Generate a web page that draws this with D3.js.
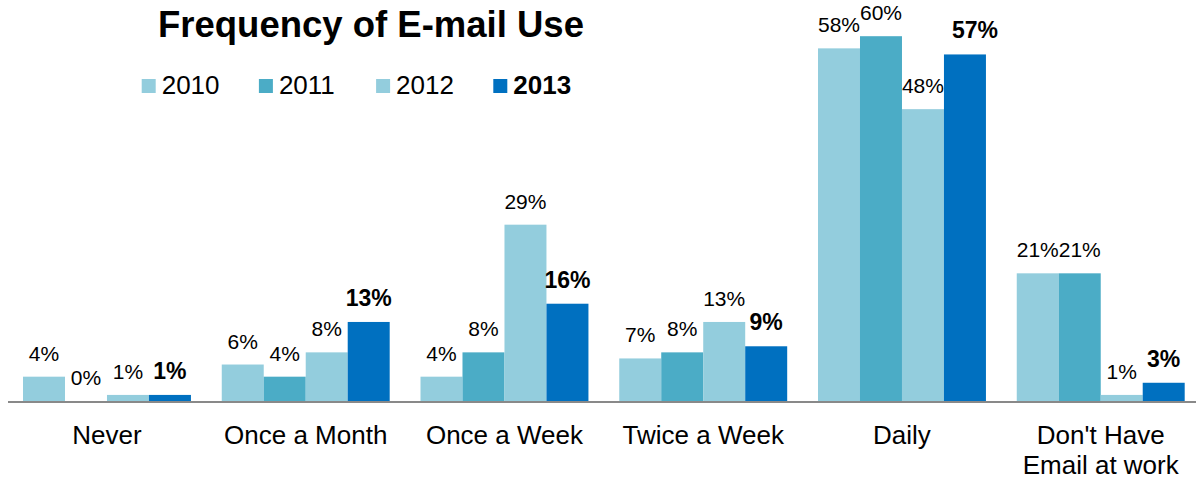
<!DOCTYPE html>
<html>
<head>
<meta charset="utf-8">
<script src="https://cdn.jsdelivr.net/npm/d3@7/dist/d3.min.js"></script>
<style>
  html, body { margin: 0; padding: 0; background: #fff; }
  svg { display: block; font-family: "Liberation Sans", Arial, Helvetica, sans-serif; }
</style>
</head>
<body>
<svg id="chart" width="1196" height="481"></svg>
<script>
// Frequency of e-mail use at work, by survey year (percent of respondents)
const categories = [["Never"], ["Once a Month"], ["Once a Week"], ["Twice a Week"], ["Daily"], ["Don't Have", "Email at work"]];
const years = ["2010", "2011", "2012", "2013"];
const values2010 = [4, 6, 4, 7, 58, 21];
const values2011 = [0, 4, 8, 8, 60, 21];
const values2012 = [1, 8, 29, 13, 48, 1];
const values2013 = [1, 13, 16, 9, 57, 3];
const seriesValues = [values2010, values2011, values2012, values2013];
const colors = ["#93cddd", "#4bacc6", "#93cddd", "#0070c0"];

const svg = d3.select("#chart");
const W = 1196, baseY = 401;

const catKeys = categories.map(c => c.join(" "));
const x0 = d3.scaleBand().domain(catKeys).range([7.6, 1200.1])
  .paddingInner(0.155).paddingOuter(0.0775);
const x1 = d3.scaleBand().domain(years).range([0, x0.bandwidth()]);
const y = d3.scaleLinear().domain([0, 60]).range([baseY, baseY - 60 * 6.08]);

// Title
svg.append("text")
  .attr("x", 158).attr("y", 37)
  .attr("font-size", 36.5).attr("font-weight", "bold").attr("fill", "#000")
  .text("Frequency of E-mail Use");

// Legend
const legend = svg.append("g");
years.forEach((yr, i) => {
  const lx = 141.7 + i * 117.2;
  legend.append("rect").attr("x", lx).attr("y", 79).attr("width", 14).attr("height", 14).attr("fill", colors[i]);
  legend.append("text").attr("x", lx + 20).attr("y", 94)
    .attr("font-size", 26).attr("fill", "#000")
    .attr("font-weight", i === 3 ? "bold" : "normal")
    .text(yr);
});

// Bars and value labels
const groups = svg.append("g").selectAll("g")
  .data(catKeys)
  .join("g")
  .attr("transform", d => `translate(${x0(d)},0)`);

groups.each(function (cat, ci) {
  const g = d3.select(this);
  years.forEach((yr, si) => {
    const v = seriesValues[si][ci];
    g.append("rect")
      .attr("x", x1(yr)).attr("width", x1.bandwidth())
      .attr("y", y(v)).attr("height", baseY - y(v))
      .attr("fill", colors[si]);
    const bold = si === 3;
    // the Daily 2013 label sits slightly right of its bar
    const nudge = (bold && cat === "Daily") ? 10 : 0;
    g.append("text")
      .attr("x", x1(yr) + x1.bandwidth() / 2 + nudge)
      .attr("y", y(v) - 16)
      .attr("text-anchor", "middle")
      .attr("font-size", bold ? 23 : 21)
      .attr("font-weight", bold ? "bold" : "normal")
      .attr("fill", "#000")
      .text(v + "%");
  });
});

// Category axis
svg.append("line")
  .attr("x1", 8).attr("x2", W).attr("y1", 402).attr("y2", 402)
  .attr("stroke", "#898989").attr("stroke-width", 2);

categories.forEach((lines, i) => {
  const t = svg.append("text")
    .attr("x", x0(catKeys[i]) + x0.bandwidth() / 2)
    .attr("y", 444)
    .attr("text-anchor", "middle")
    .attr("font-size", 26).attr("fill", "#000");
  lines.forEach((ln, li) => {
    t.append("tspan").attr("x", x0(catKeys[i]) + x0.bandwidth() / 2)
      .attr("dy", li === 0 ? 0 : 30).text(ln);
  });
});
</script>
</body>
</html>
